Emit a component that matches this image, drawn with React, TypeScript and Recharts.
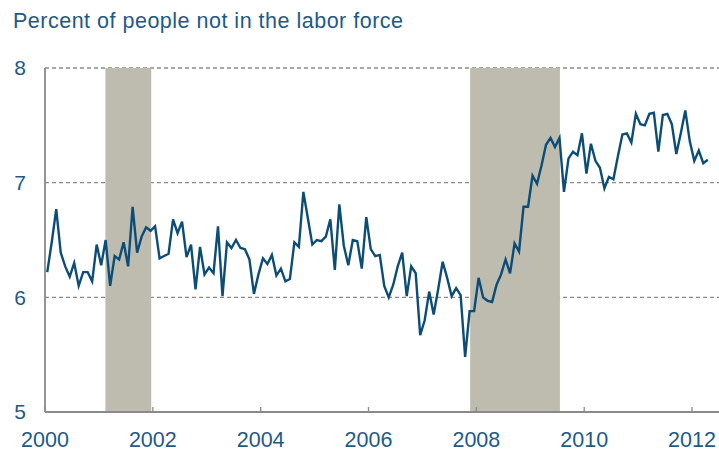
import React from 'react';
import { LineChart, Line, XAxis, YAxis, CartesianGrid, ReferenceArea } from 'recharts';

const startYear = 2000;
const v2000 = [6.22, 6.48, 6.77, 6.39, 6.27, 6.18, 6.30, 6.10, 6.22, 6.22, 6.14, 6.46];
const v2001 = [6.28, 6.50, 6.10, 6.36, 6.33, 6.48, 6.27, 6.79, 6.39, 6.53, 6.61, 6.58];
const v2002 = [6.62, 6.34, 6.36, 6.38, 6.68, 6.56, 6.66, 6.35, 6.46, 6.07, 6.44, 6.20];
const v2003 = [6.26, 6.21, 6.62, 6.01, 6.48, 6.43, 6.50, 6.43, 6.42, 6.33, 6.03, 6.20];
const v2004 = [6.34, 6.29, 6.37, 6.19, 6.25, 6.14, 6.16, 6.48, 6.44, 6.92, 6.69, 6.46];
const v2005 = [6.50, 6.49, 6.53, 6.68, 6.24, 6.81, 6.45, 6.28, 6.50, 6.49, 6.25, 6.70];
const v2006 = [6.42, 6.36, 6.37, 6.10, 6.00, 6.11, 6.27, 6.39, 6.01, 6.27, 6.21, 5.67];
const v2007 = [5.80, 6.05, 5.85, 6.07, 6.31, 6.17, 6.01, 6.08, 6.02, 5.48, 5.88, 5.88];
const v2008 = [6.17, 6.00, 5.97, 5.96, 6.11, 6.20, 6.33, 6.21, 6.47, 6.40, 6.79, 6.79];
const v2009 = [7.06, 6.99, 7.15, 7.33, 7.39, 7.31, 7.39, 6.92, 7.21, 7.27, 7.24, 7.43];
const v2010 = [7.08, 7.34, 7.19, 7.13, 6.95, 7.05, 7.03, 7.23, 7.42, 7.43, 7.35, 7.60];
const v2011 = [7.51, 7.50, 7.60, 7.61, 7.27, 7.59, 7.60, 7.51, 7.25, 7.43, 7.63, 7.36];
const v2012 = [7.19, 7.28, 7.17, 7.20];

const yearly = [v2000, v2001, v2002, v2003, v2004, v2005, v2006, v2007, v2008, v2009, v2010, v2011, v2012];

const recessions = [
  { start: 2001.12, end: 2001.97 },
  { start: 2007.885, end: 2009.55 },
];

const xTicks = [2000, 2002, 2004, 2006, 2008, 2010, 2012];
const yTicks = [5, 6, 7, 8];

const data = yearly.flatMap((arr, yi) =>
  arr.map((v, mi) => ({ t: startYear + yi + (mi + 0.5) / 12, value: v }))
);

const TEXT = '#1d5a87';
const AXIS = '#8a8a8a';
const FONT = '"Liberation Sans", Arial, sans-serif';
const X_MARGIN = 20;

const XTick = (props: any) => {
  const { x, y, payload } = props;
  const axisY = y - X_MARGIN;
  return (
    <g>
      <line x1={x} x2={x} y1={axisY} y2={axisY - 5} stroke={AXIS} strokeWidth={1.3} />
      <text
        x={x}
        y={y + 14.5}
        textAnchor="middle"
        fill={TEXT}
        fontSize={21.5}
        fontFamily={FONT}
      >
        {payload.value}
      </text>
    </g>
  );
};

export default function App() {
  return (
    <div style={{ position: 'absolute', left: 0, top: 0, width: 719, height: 451, background: '#fff' }}>
      <div
        style={{
          position: 'absolute',
          left: 13,
          top: 11,
          fontFamily: FONT,
          fontSize: 21.5,
          lineHeight: '21px',
          color: TEXT,
          letterSpacing: 0.5,
          whiteSpace: 'nowrap',
        }}
      >
        Percent of people not in the labor force
      </div>
      <LineChart
        width={719}
        height={451}
        data={data}
        margin={{ top: 68, right: 0, bottom: 0, left: 0 }}
      >
        <CartesianGrid vertical={false} stroke={AXIS} strokeDasharray="4 3" strokeWidth={1.3} />
        {recessions.map((r, i) => (
          <ReferenceArea
            key={i}
            x1={r.start}
            x2={r.end}
            y1={5}
            y2={8}
            fill="#bebcaf"
            fillOpacity={1}
            stroke="none"
            ifOverflow="extendDomain"
          />
        ))}
        <XAxis
          dataKey="t"
          type="number"
          domain={[2000, 2012.5]}
          ticks={xTicks}
          interval={0}
          allowDataOverflow
          height={39}
          axisLine={{ stroke: AXIS, strokeWidth: 1.8 }}
          tickLine={false}
          tickSize={0}
          tickMargin={X_MARGIN}
          tick={<XTick />}
        />
        <YAxis
          type="number"
          domain={[5, 8]}
          ticks={yTicks}
          interval={0}
          allowDataOverflow
          width={45}
          axisLine={{ stroke: AXIS, strokeWidth: 1.8 }}
          tickLine={false}
          tickSize={0}
          tickMargin={19}
          tick={{ fill: TEXT, fontSize: 21, fontFamily: FONT }}
        />
        <Line
          type="linear"
          dataKey="value"
          stroke="#0c4d78"
          strokeWidth={2.4}
          dot={false}
          activeDot={false}
          isAnimationActive={false}
        />
      </LineChart>
    </div>
  );
}
